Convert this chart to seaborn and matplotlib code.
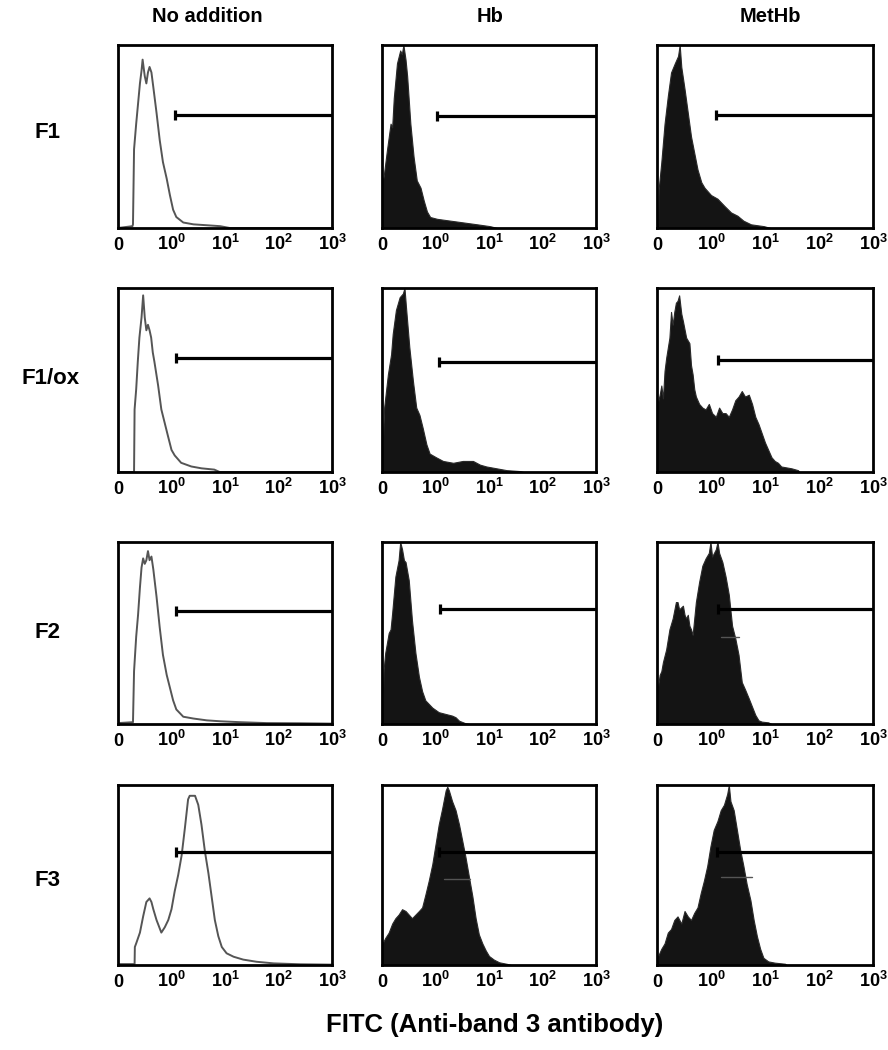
import numpy as np
import seaborn as sns
from matplotlib import pyplot as plt

# x in decade units: 0 -> "0", 1 -> 10^0, 2 -> 10^1, 3 -> 10^2, 4 -> 10^3
# y as fraction of the panel height

columns = ['No addition', 'Hb', 'MetHb']
rows = ['F1', 'F1/ox', 'F2', 'F3']
tick_labels = ['0', r'$\mathbf{10^{0}}$', r'$\mathbf{10^{1}}$', r'$\mathbf{10^{2}}$', r'$\mathbf{10^{3}}$']
x_label = 'FITC (Anti-band 3 antibody)'

f1_none_x = [0.0, 0.27, 0.28, 0.30, 0.34, 0.41, 0.44, 0.46, 0.50, 0.53, 0.56, 0.59, 0.625, 0.66, 0.72, 0.78, 0.84, 0.91, 0.97, 1.03, 1.09, 1.22, 1.41, 1.66, 1.91, 2.09, 4.0]
f1_none_y = [0.0, 0.01, 0.02, 0.43, 0.57, 0.79, 0.86, 0.92, 0.83, 0.79, 0.85, 0.88, 0.85, 0.77, 0.63, 0.48, 0.36, 0.27, 0.18, 0.10, 0.06, 0.03, 0.02, 0.015, 0.01, 0.0, 0.0]

f1_hb_x = [0.0, 0.01, 0.03, 0.09, 0.16, 0.19, 0.22, 0.28, 0.34, 0.37, 0.40, 0.44, 0.47, 0.53, 0.59, 0.65, 0.72, 0.78, 0.84, 0.90, 1.03, 1.28, 1.53, 1.78, 2.02, 2.15]
f1_hb_y = [0.0, 0.26, 0.28, 0.42, 0.57, 0.55, 0.71, 0.90, 0.97, 0.95, 1.0, 0.92, 0.83, 0.57, 0.39, 0.26, 0.22, 0.15, 0.09, 0.06, 0.05, 0.04, 0.03, 0.02, 0.01, 0.0]

f1_met_x = [0.0, 0.02, 0.03, 0.08, 0.14, 0.20, 0.26, 0.33, 0.39, 0.42, 0.45, 0.51, 0.57, 0.63, 0.69, 0.75, 0.82, 0.88, 1.0, 1.12, 1.25, 1.37, 1.49, 1.6, 1.74, 1.98, 2.1]
f1_met_y = [0.0, 0.05, 0.21, 0.36, 0.57, 0.72, 0.85, 0.90, 0.94, 1.0, 0.88, 0.76, 0.63, 0.50, 0.41, 0.32, 0.25, 0.22, 0.18, 0.16, 0.12, 0.085, 0.067, 0.04, 0.02, 0.01, 0.0]

f1ox_none_x = [0.0, 0.30, 0.31, 0.34, 0.37, 0.40, 0.44, 0.47, 0.50, 0.53, 0.56, 0.59, 0.62, 0.65, 0.68, 0.75, 0.81, 0.87, 0.93, 1.0, 1.06, 1.18, 1.37, 1.56, 1.8, 1.9, 4.0]
f1ox_none_y = [0.0, 0.0, 0.34, 0.45, 0.60, 0.73, 0.84, 0.96, 0.84, 0.77, 0.80, 0.77, 0.73, 0.65, 0.60, 0.47, 0.34, 0.27, 0.20, 0.12, 0.09, 0.05, 0.03, 0.02, 0.013, 0.0, 0.0]

f1ox_hb_x = [0.0, 0.01, 0.04, 0.11, 0.17, 0.20, 0.26, 0.33, 0.39, 0.42, 0.45, 0.51, 0.58, 0.64, 0.70, 0.76, 0.83, 0.89, 1.01, 1.14, 1.33, 1.51, 1.70, 1.83, 1.95, 2.14, 2.33, 2.58, 2.64]
f1ox_hb_y = [0.0, 0.13, 0.35, 0.53, 0.64, 0.75, 0.88, 0.95, 0.97, 1.0, 0.89, 0.68, 0.49, 0.35, 0.31, 0.24, 0.15, 0.10, 0.08, 0.06, 0.05, 0.06, 0.06, 0.04, 0.03, 0.02, 0.01, 0.005, 0.0]

f1ox_met_x = [0.0, 0.01, 0.05, 0.08, 0.11, 0.14, 0.17, 0.23, 0.26, 0.29, 0.32, 0.35, 0.38, 0.41, 0.45, 0.48, 0.54, 0.60, 0.63, 0.66,
              0.69, 0.72, 0.78, 0.84, 0.90, 0.96, 1.02, 1.09, 1.15, 1.21, 1.27, 1.33, 1.39, 1.45, 1.51, 1.57, 1.63, 1.70, 1.76, 1.82,
              1.88, 1.94, 2.0, 2.06, 2.12, 2.18, 2.24, 2.30, 2.49, 2.61, 2.64]
f1ox_met_y = [0.0, 0.37, 0.42, 0.47, 0.40, 0.55, 0.62, 0.73, 0.87, 0.80, 0.87, 0.92, 0.93, 0.96, 0.86, 0.82, 0.73, 0.70, 0.58, 0.53,
              0.45, 0.41, 0.37, 0.35, 0.34, 0.37, 0.32, 0.30, 0.35, 0.32, 0.32, 0.30, 0.34, 0.39, 0.41, 0.44, 0.41, 0.42, 0.37, 0.30,
              0.26, 0.21, 0.16, 0.12, 0.08, 0.06, 0.05, 0.03, 0.02, 0.01, 0.0]

f2_none_x = [0.0, 0.28, 0.30, 0.34, 0.375, 0.41, 0.44, 0.47, 0.50, 0.53, 0.56, 0.59, 0.625, 0.66, 0.72, 0.78, 0.84, 0.91, 0.97, 1.03, 1.09, 1.22, 1.41, 1.66, 1.91, 2.28, 2.78, 3.41, 4.0]
f2_none_y = [0.005, 0.01, 0.29, 0.48, 0.60, 0.75, 0.86, 0.91, 0.88, 0.90, 0.95, 0.90, 0.92, 0.85, 0.70, 0.53, 0.38, 0.27, 0.20, 0.13, 0.08, 0.04, 0.03, 0.02, 0.015, 0.01, 0.005, 0.004, 0.002]

f2_hb_x = [0.0, 0.01, 0.03, 0.06, 0.125, 0.16, 0.19, 0.25, 0.31, 0.34, 0.375, 0.41, 0.44, 0.5, 0.56, 0.625, 0.69, 0.75, 0.81, 0.875, 0.94, 1.06, 1.19, 1.31, 1.375, 1.44, 1.56, 1.625]
f2_hb_y = [0.0, 0.11, 0.30, 0.39, 0.50, 0.52, 0.61, 0.81, 0.90, 1.0, 0.96, 0.90, 0.89, 0.79, 0.57, 0.39, 0.26, 0.18, 0.13, 0.11, 0.09, 0.065, 0.055, 0.046, 0.037, 0.018, 0.004, 0.0]

f2_met_x = [0.0, 0.01, 0.05, 0.08, 0.11, 0.17, 0.23, 0.29, 0.35, 0.38, 0.41, 0.48, 0.51, 0.54, 0.57, 0.60, 0.63, 0.66, 0.69, 0.72, 0.78, 0.84,
            0.90, 0.96, 0.99, 1.02, 1.09, 1.12, 1.15, 1.21, 1.27, 1.33, 1.39, 1.45, 1.51, 1.57, 1.63, 1.70, 1.76, 1.82, 1.88, 1.94, 2.06, 2.12]
f2_met_y = [0.0, 0.19, 0.27, 0.29, 0.34, 0.41, 0.52, 0.58, 0.67, 0.67, 0.63, 0.65, 0.60, 0.58, 0.60, 0.54, 0.52, 0.49, 0.58, 0.67, 0.78, 0.87,
            0.91, 0.94, 1.0, 0.92, 0.96, 1.0, 0.94, 0.89, 0.81, 0.71, 0.54, 0.47, 0.38, 0.23, 0.19, 0.14, 0.095, 0.05, 0.02, 0.013, 0.009, 0.0]

f3_none_x = [0.0, 0.31, 0.315, 0.34, 0.41, 0.47, 0.53, 0.59, 0.625, 0.66, 0.72, 0.81, 0.875, 0.94, 1.0, 1.06, 1.125, 1.19, 1.25, 1.31, 1.34,
             1.44, 1.5, 1.56, 1.625, 1.69, 1.75, 1.81, 1.875, 1.94, 2.03, 2.16, 2.34, 2.59, 2.91, 3.41, 4.0]
f3_none_y = [0.005, 0.005, 0.10, 0.12, 0.18, 0.27, 0.35, 0.37, 0.35, 0.31, 0.25, 0.18, 0.21, 0.25, 0.31, 0.41, 0.50, 0.61, 0.76, 0.92, 0.94,
             0.94, 0.89, 0.78, 0.63, 0.51, 0.38, 0.25, 0.16, 0.10, 0.065, 0.046, 0.03, 0.018, 0.009, 0.004, 0.002]

f3_hb_x = [0.0, 0.01, 0.06, 0.125, 0.19, 0.25, 0.31, 0.375, 0.44, 0.5, 0.56, 0.625, 0.69, 0.75, 0.81, 0.875, 0.94, 1.0, 1.06, 1.125,
           1.19, 1.22, 1.25, 1.31, 1.375, 1.44, 1.5, 1.56, 1.625, 1.69, 1.75, 1.81, 1.875, 1.94, 2.0, 2.09, 2.19, 2.34, 2.41]
f3_hb_y = [0.0, 0.12, 0.15, 0.18, 0.23, 0.26, 0.28, 0.31, 0.30, 0.28, 0.26, 0.28, 0.30, 0.32, 0.39, 0.47, 0.56, 0.67, 0.78, 0.87,
           0.97, 0.99, 0.97, 0.91, 0.86, 0.78, 0.69, 0.60, 0.49, 0.38, 0.26, 0.17, 0.12, 0.08, 0.05, 0.03, 0.015, 0.006, 0.0]

f3_met_x = [0.0, 0.02, 0.08, 0.14, 0.20, 0.26, 0.32, 0.38, 0.45, 0.51, 0.57, 0.63, 0.69, 0.75, 0.81, 0.87, 0.93, 0.99, 1.05, 1.12,
            1.18, 1.24, 1.30, 1.33, 1.36, 1.42, 1.48, 1.54, 1.60, 1.66, 1.73, 1.79, 1.85, 1.91, 1.97, 2.06, 2.18, 2.37, 2.40]
f3_met_y = [0.0, 0.05, 0.09, 0.12, 0.18, 0.20, 0.25, 0.27, 0.23, 0.30, 0.27, 0.25, 0.29, 0.32, 0.40, 0.47, 0.55, 0.66, 0.75, 0.80,
            0.86, 0.89, 0.95, 1.0, 0.91, 0.86, 0.75, 0.64, 0.55, 0.45, 0.36, 0.25, 0.16, 0.09, 0.04, 0.02, 0.013, 0.007, 0.0]

# marker gate (start position, level) per panel
gate_start = [[1.06, 1.02, 1.09], [1.09, 1.06, 1.13], [1.09, 1.075, 1.13], [1.09, 1.06, 1.12]]
gate_level = [[0.62, 0.61, 0.62], [0.62, 0.60, 0.61], [0.62, 0.63, 0.63], [0.63, 0.63, 0.63]]
# second faint gate (start, end, level) where present
gate2 = {(2, 2): (1.18, 1.51, 0.48), (3, 1): (1.16, 1.64, 0.48), (3, 2): (1.18, 1.76, 0.49)}
# y tick spacing per panel
ytick_step = [[0.45, 0.64, 0.77], [0.405, 0.173, 0.33], [0.44, 0.655, 0.132], [0.317, 0.1135, 0.11]]

curves = [
    [(f1_none_x, f1_none_y), (f1_hb_x, f1_hb_y), (f1_met_x, f1_met_y)],
    [(f1ox_none_x, f1ox_none_y), (f1ox_hb_x, f1ox_hb_y), (f1ox_met_x, f1ox_met_y)],
    [(f2_none_x, f2_none_y), (f2_hb_x, f2_hb_y), (f2_met_x, f2_met_y)],
    [(f3_none_x, f3_none_y), (f3_hb_x, f3_hb_y), (f3_met_x, f3_met_y)],
]

sns.set_style("white", {'text.color': 'black', 'xtick.color': 'black', 'ytick.color': 'black',
                        'axes.labelcolor': 'black'})
plt.rcParams['font.family'] = ['Liberation Sans', 'DejaVu Sans']
plt.rcParams['mathtext.fontset'] = 'custom'
plt.rcParams['mathtext.rm'] = 'Liberation Sans'
plt.rcParams['mathtext.bf'] = 'Liberation Sans:bold'

W, H = 888, 1050
fig = plt.figure(figsize=(W / 100, H / 100), dpi=100)

col_left = [118, 382, 657]
col_width = [214, 214, 216]
row_top = [45, 288, 542, 785]
row_height = [183, 184, 182, 180]
head_x = [207, 490, 770]
label_x = [47, 51, 47, 47]
label_y = [133, 379, 633, 880]

minor = [d + np.log10(k) for d in range(4) for k in range(2, 10)]

for r in range(4):
    for c in range(3):
        ax = fig.add_axes([col_left[c] / W, 1 - (row_top[r] + row_height[r]) / H,
                           col_width[c] / W, row_height[r] / H])
        xs, ys = curves[r][c]
        if c == 0:
            sns.lineplot(x=xs, y=ys, ax=ax, color='#555555', linewidth=1.4, sort=False, estimator=None)
        else:
            ax.fill_between(xs, ys, 0, color='#141414', linewidth=0.8, edgecolor='#2a2a2a')
        # gate marker
        ax.plot([gate_start[r][c], 4.0], [gate_level[r][c]] * 2, color='black', lw=2.3, solid_capstyle='butt')
        ax.plot([gate_start[r][c]], [gate_level[r][c]], marker='|', ms=7, mew=2.3, color='black')
        if (r, c) in gate2:
            g0, g1, gl = gate2[(r, c)]
            ax.plot([g0, g1], [gl, gl], color='#555555', lw=1.0)

        ax.set_xlim(0, 4)
        ax.set_ylim(0, 1.0)
        ax.set_xticks(range(5))
        ax.set_xticklabels(tick_labels, fontsize=13, fontweight='bold', va='baseline')
        if c > 0:
            ax.set_xticks(minor, minor=True)
        ax.set_yticks(np.arange(0, 1.0, ytick_step[r][c]))
        ax.set_yticklabels([])
        ax.tick_params(axis='x', which='major', direction='out', length=3, width=0.8, pad=12.5)
        ax.tick_params(axis='y', which='major', direction='out', length=4.5, width=0.8)
        ax.tick_params(axis='x', which='minor', direction='out', length=2.5, width=0.6)
        ax.set_xlabel('')
        ax.set_ylabel('')
        for s in ax.spines.values():
            s.set_linewidth(2.0)
            s.set_color('black')

for c, name in enumerate(columns):
    fig.text(head_x[c] / W, 1 - 16 / H, name, ha='center', va='center',
             fontsize=14.5, fontweight='bold')
for r, name in enumerate(rows):
    fig.text(label_x[r] / W, 1 - label_y[r] / H, name, ha='center', va='center',
             fontsize=16, fontweight='bold')
fig.text(495 / W, 1 - 1025 / H, x_label, ha='center', va='center', fontsize=18.5, fontweight='bold')

plt.savefig('out.png', dpi=100)
plt.close()
